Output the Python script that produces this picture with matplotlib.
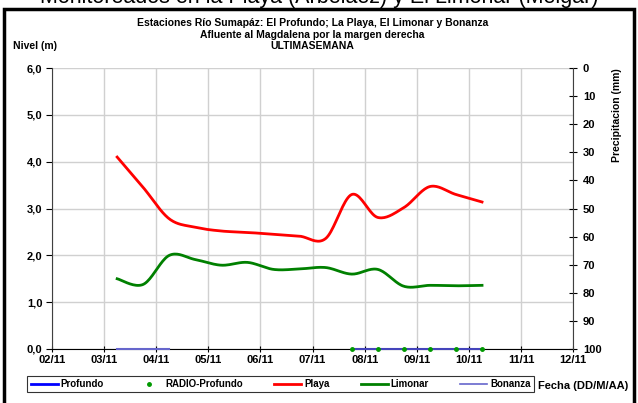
import matplotlib
matplotlib.use("Agg")
import matplotlib.pyplot as plt
import numpy as np
from matplotlib.lines import Line2D
from matplotlib.patches import Rectangle

plt.rcParams['font.family'] = ['Liberation Sans', 'DejaVu Sans']

# dias desde 02/11 (00:00), cada 12 horas
dias = [1.25, 1.75, 2.25, 2.75, 3.25, 3.75, 4.25, 4.75, 5.25, 5.75, 6.25, 6.75, 7.25, 7.75, 8.25]
playa = [4.10, 3.45, 2.78, 2.60, 2.52, 2.49, 2.45, 2.41, 2.36, 3.30, 2.81, 3.02, 3.47, 3.30, 3.14]
limonar = [1.50, 1.38, 2.00, 1.91, 1.79, 1.85, 1.70, 1.71, 1.74, 1.60, 1.70, 1.34, 1.36, 1.35, 1.36]
bonanza_dias1 = [1.25, 1.75, 2.25]
bonanza_dias2 = [5.75, 6.25, 6.75, 7.25, 7.75, 8.25]
bonanza1 = [0, 0, 0]
bonanza2 = [0, 0, 0, 0, 0, 0]
radio_dias = [5.75, 6.25, 6.75, 7.25, 7.75, 8.25]
radio_profundo = [0, 0, 0, 0, 0, 0]
fechas = ["02/11", "03/11", "04/11", "05/11", "06/11", "07/11",
          "08/11", "09/11", "10/11", "11/11", "12/11"]


def suavizar(x, y, n=20):
    # curva tipo Excel (Catmull-Rom) entre los puntos
    x = np.asarray(x, float)
    y = np.asarray(y, float)
    px = np.concatenate([[x[0]], x, [x[-1]]])
    py = np.concatenate([[y[0]], y, [y[-1]]])
    xs, ys = [], []
    t = np.linspace(0, 1, n, endpoint=False)
    for i in range(1, len(px) - 2):
        for p, out in ((px, xs), (py, ys)):
            p0, p1, p2, p3 = p[i - 1], p[i], p[i + 1], p[i + 2]
            out.extend(0.5 * ((2 * p1) + (-p0 + p2) * t +
                              (2 * p0 - 5 * p1 + 4 * p2 - p3) * t ** 2 +
                              (-p0 + 3 * p1 - 3 * p2 + p3) * t ** 3))
    xs.append(x[-1])
    ys.append(y[-1])
    return xs, ys


fig = plt.figure(figsize=(6.38, 4.03), dpi=100)
ax = fig.add_axes([0.0815, 0.134, 0.817, 0.697])

ax.plot(*suavizar(dias, playa), color='red', lw=2.0, zorder=4)
ax.plot(*suavizar(dias, limonar), color='#008000', lw=2.0, zorder=4)
ax.plot(bonanza_dias1, bonanza1, color='#6666CC', lw=1.5, zorder=5, clip_on=False)
ax.plot(bonanza_dias2, bonanza2, color='#4444BB', lw=1.5, zorder=5, clip_on=False)
ax.plot(radio_dias, radio_profundo, 'o', color='#009900', ms=2.5, zorder=6, clip_on=False)

ax.set_xlim(0, 10)
ax.set_ylim(0, 6)
ax.set_xticks(range(len(fechas)))
ax.set_xticklabels(fechas)
ax.set_yticks(np.arange(0, 7, 1))
ax.set_yticklabels([f"{v:.1f}".replace('.', ',') for v in range(0, 7)])
ax.grid(True, color='#d0d0d0', lw=1.0)
ax.set_axisbelow(True)
for s in ['top', 'right']:
    ax.spines[s].set_visible(False)
ax.spines['left'].set_color('#404040')
ax.spines['bottom'].set_color('black')
ax.tick_params(axis='x', direction='inout', length=5, labelsize=8, pad=2)
ax.tick_params(axis='y', direction='out', length=4, labelsize=8, pad=3)
for lab in ax.get_xticklabels() + ax.get_yticklabels():
    lab.set_fontweight('bold')

ax2 = ax.twinx()
ax2.set_ylim(100, 0)
ax2.set_yticks(np.arange(0, 101, 10))
for s in ['top', 'left', 'bottom']:
    ax2.spines[s].set_visible(False)
ax2.spines['right'].set_color('#404040')
ax2.tick_params(axis='y', direction='inout', length=6, labelsize=8, pad=4)
for lab in ax2.get_yticklabels():
    lab.set_fontweight('bold')

# titulos
fig.text(0.49, 0.943, "Estaciones Río Sumapáz: El Profundo; La Playa, El Limonar y Bonanza",
         ha='center', va='center', fontsize=7.5, fontweight='bold')
fig.text(0.49, 0.913, "Afluente al Magdalena por la margen derecha",
         ha='center', va='center', fontsize=7.5, fontweight='bold')
fig.text(0.49, 0.885, "ULTIMASEMANA",
         ha='center', va='center', fontsize=7.5, fontweight='bold')
fig.text(0.02, 0.885, "Nivel (m)", ha='left', va='center', fontsize=7.5, fontweight='bold')
fig.text(0.967, 0.83, "Precipitacion (mm)", ha='center', va='top', rotation=90,
         fontsize=7.5, fontweight='bold')
fig.text(0.985, 0.042, "Fecha (DD/M/AA)", ha='right', va='center', fontsize=8, fontweight='bold')

# texto superior recortado
fig.text(0.5, 1.005, "Monitoreados en la Playa (Arbeláez) y El Limonar (Melgar)",
         ha='center', va='center', fontsize=15.5)

# leyenda
handles = [Line2D([], [], color='blue', lw=2),
           Line2D([], [], color='#009900', marker='o', ms=2.5, ls='none'),
           Line2D([], [], color='red', lw=2),
           Line2D([], [], color='#008000', lw=2),
           Line2D([], [], color='#6666CC', lw=1.2)]
labels = ["Profundo", "RADIO-Profundo", "Playa", "Limonar", "Bonanza"]
leg = fig.legend(handles, labels, loc='center', bbox_to_anchor=(0.44, 0.047), ncol=5,
                 fontsize=7, frameon=True, fancybox=False, edgecolor='black',
                 handlelength=2.8, handletextpad=0.3, columnspacing=3.2,
                 borderpad=0.35, prop={'weight': 'bold', 'size': 7})
leg.get_frame().set_linewidth(0.8)

# marco exterior
fig.patches.append(Rectangle((0.007, -0.02), 0.986, 0.998, transform=fig.transFigure,
                             fill=False, edgecolor='black', lw=2.5))

fig.savefig("out.png", dpi=100)
